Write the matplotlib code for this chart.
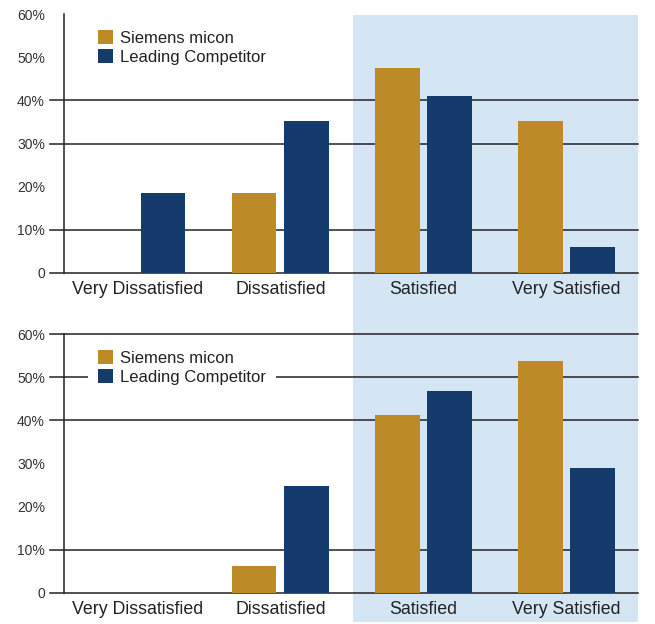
import numpy as np
import matplotlib.pyplot as plt
from matplotlib.patches import Rectangle

plt.rcParams['font.family'] = ['Liberation Sans', 'DejaVu Sans']

categories = ['Very Dissatisfied', 'Dissatisfied', 'Satisfied', 'Very Satisfied']
series_names = ['Siemens micon', 'Leading Competitor']

# top panel values (%)
top_siemens = [0, 18.5, 47.5, 35.2]
top_competitor = [18.5, 35.2, 41.0, 6.1]

# bottom panel values (%)
bottom_siemens = [0, 6.2, 41.3, 53.9]
bottom_competitor = [0, 24.8, 46.9, 28.9]

y_ticks = [0, 10, 20, 30, 40, 50, 60]
y_tick_labels = ['0', '10%', '20%', '30%', '40%', '50%', '60%']
top_grid = [0, 10, 30, 40]
bottom_grid = [0, 10, 40, 50, 60]

gold = '#bc8a26'
navy = '#143b6b'
shade = '#d4e6f4'
line_col = '#222222'

W, H = 655, 624
fig = plt.figure(figsize=(W / 100, H / 100), dpi=100)

# shaded "satisfied" band spanning both panels
band = Rectangle((352.7 / W, 0.003), (638 - 352.7) / W, (624 - 14.5) / H - 0.003,
                 transform=fig.transFigure, facecolor=shade, edgecolor='none', zorder=-1)
fig.patches.append(band)

ax_top = fig.add_axes([64.3 / W, (624 - 273) / H, (638 - 64.3) / W, (273 - 14) / H])
ax_bot = fig.add_axes([64.3 / W, (624 - 592.7) / H, (638 - 64.3) / W, (592.7 - 334.3) / H])

x = np.arange(len(categories))
width = 0.31
offset = 0.182


def draw_panel(ax, siemens, competitor, grid_vals):
    ax.patch.set_alpha(0)
    ax.set_xlim(-0.51, 3.5)
    ax.set_ylim(0, 60)
    trans = ax.get_yaxis_transform()
    for g in grid_vals:
        ax.plot([-0.025, 1], [g, g], transform=trans, color=line_col, lw=1.1,
                clip_on=False, zorder=1)
    ax.bar(x - offset, siemens, width, color=gold, zorder=2, label=series_names[0])
    ax.bar(x + offset, competitor, width, color=navy, zorder=2, label=series_names[1])

    for s in ['top', 'right', 'bottom']:
        ax.spines[s].set_visible(False)
    ax.spines['left'].set_color(line_col)
    ax.spines['left'].set_linewidth(1.1)

    ax.set_yticks(y_ticks)
    ax.set_yticklabels(y_tick_labels, fontsize=10, color='#333333')
    ax.tick_params(axis='y', length=0, pad=14)
    ax.set_xticks(x)
    ax.set_xticklabels(categories, fontsize=12.8, color='#222222')
    ax.tick_params(axis='x', length=0, pad=6)

    leg = ax.legend(loc='upper left', bbox_to_anchor=(0.041, 0.977), fontsize=12,
                    frameon=True, fancybox=False, framealpha=1, facecolor='white',
                    edgecolor='none', handlelength=0.9, handleheight=0.9,
                    handletextpad=0.45, labelspacing=0.2, borderpad=0.6,
                    borderaxespad=0)
    leg.set_zorder(3)
    for t in leg.get_texts():
        t.set_color('#222222')


draw_panel(ax_top, top_siemens, top_competitor, top_grid)
draw_panel(ax_bot, bottom_siemens, bottom_competitor, bottom_grid)

fig.savefig('out.png', dpi=100)
